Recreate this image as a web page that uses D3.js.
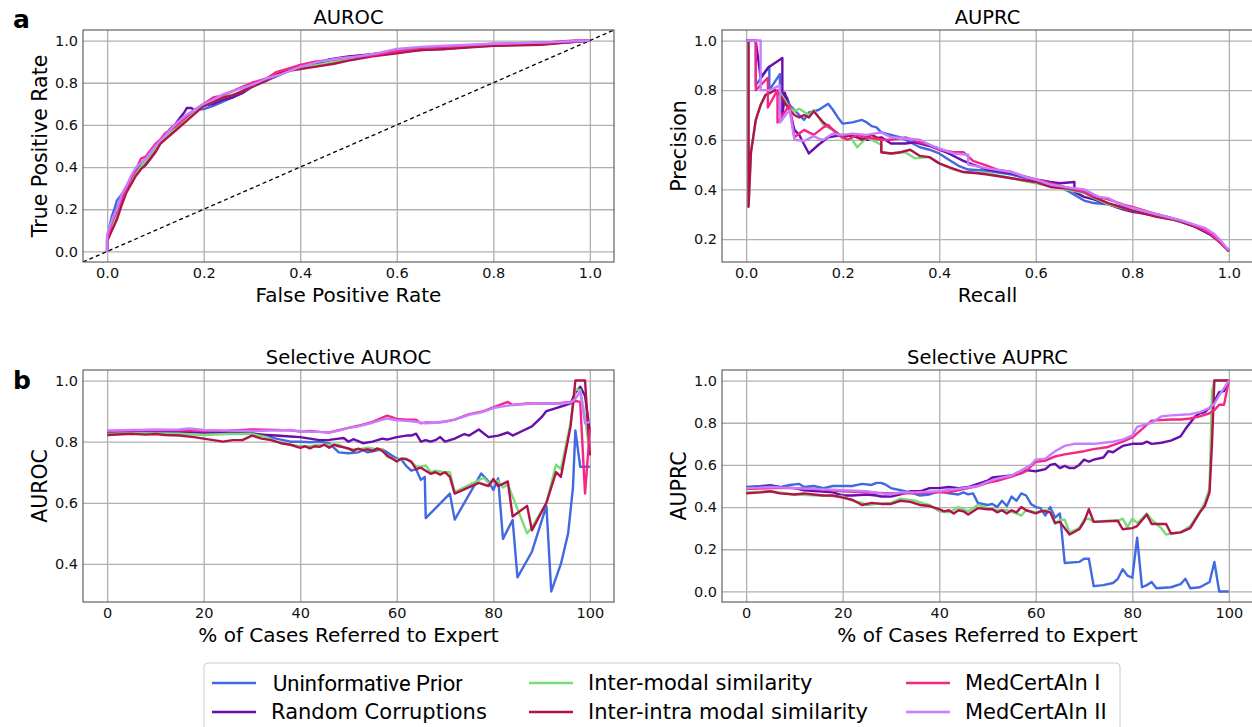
<!DOCTYPE html>
<html>
<head>
<meta charset="utf-8">
<script src="https://cdn.jsdelivr.net/npm/d3@7"></script>
<style>
  body { margin: 0; background: #fff; }
  svg { display: block; font-family: "DejaVu Sans", sans-serif; }
</style>
</head>
<body>
<div id="chart"></div>
<script>
// ---- series info (legend order) ----
const seriesNames = ['Uninformative Prior', 'Random Corruptions', 'Inter-modal similarity',
    'Inter-intra modal similarity', 'MedCertAIn I', 'MedCertAIn II'];
const seriesColors = ['#4169e1', '#6a0dad', '#77dd77', '#b3134b', '#f72585', '#c77dff'];

// ---- ROC curves [fpr, tpr] ----
const rocPrior = [[0,0],[0,0.05],[0.005,0.12],[0.01,0.17],[0.015,0.2],[0.02,0.24],[0.03,0.27],[0.04,0.31],[0.05,0.35],[0.06,0.38],[0.07,0.41],[0.08,0.43],[0.09,0.46],[0.1,0.49],[0.11,0.52],[0.12,0.55],[0.14,0.59],[0.15,0.62],[0.16,0.64],[0.18,0.67],[0.2,0.675],[0.22,0.69],[0.24,0.71],[0.26,0.73],[0.28,0.76],[0.3,0.79],[0.32,0.81],[0.35,0.84],[0.38,0.86],[0.4,0.875],[0.43,0.89],[0.47,0.91],[0.5,0.92],[0.55,0.935],[0.6,0.95],[0.65,0.955],[0.7,0.96],[0.75,0.97],[0.8,0.98],[0.85,0.985],[0.9,0.99],[0.95,0.995],[1,1]];
const rocRandom = [[0,0],[0,0.07],[0.01,0.13],[0.02,0.2],[0.03,0.26],[0.04,0.3],[0.05,0.34],[0.06,0.37],[0.07,0.4],[0.08,0.42],[0.09,0.45],[0.1,0.49],[0.11,0.52],[0.12,0.55],[0.13,0.58],[0.14,0.6],[0.15,0.63],[0.16,0.66],[0.165,0.68],[0.175,0.68],[0.18,0.67],[0.2,0.69],[0.22,0.7],[0.24,0.72],[0.26,0.73],[0.28,0.75],[0.3,0.78],[0.32,0.8],[0.35,0.83],[0.38,0.86],[0.4,0.875],[0.43,0.89],[0.46,0.91],[0.5,0.925],[0.55,0.935],[0.6,0.95],[0.65,0.96],[0.7,0.965],[0.75,0.97],[0.8,0.98],[0.9,0.985],[0.95,0.99],[1,1]];
const rocInter = [[0,0],[0,0.06],[0.01,0.12],[0.02,0.18],[0.03,0.24],[0.04,0.29],[0.05,0.33],[0.06,0.37],[0.07,0.4],[0.08,0.43],[0.09,0.46],[0.1,0.49],[0.12,0.54],[0.14,0.58],[0.16,0.62],[0.18,0.66],[0.2,0.69],[0.22,0.71],[0.24,0.73],[0.27,0.75],[0.3,0.78],[0.33,0.81],[0.36,0.85],[0.4,0.87],[0.45,0.89],[0.5,0.91],[0.55,0.93],[0.6,0.945],[0.65,0.955],[0.7,0.965],[0.8,0.975],[0.9,0.985],[1,1]];
const rocInterIntra = [[0,0],[0,0.05],[0.01,0.1],[0.02,0.15],[0.03,0.22],[0.04,0.28],[0.05,0.32],[0.06,0.36],[0.07,0.39],[0.08,0.41],[0.09,0.44],[0.1,0.47],[0.11,0.51],[0.12,0.53],[0.14,0.57],[0.16,0.61],[0.18,0.65],[0.2,0.69],[0.22,0.71],[0.24,0.73],[0.26,0.74],[0.28,0.76],[0.3,0.78],[0.33,0.81],[0.36,0.85],[0.4,0.865],[0.43,0.875],[0.47,0.89],[0.5,0.905],[0.55,0.925],[0.6,0.94],[0.65,0.955],[0.7,0.96],[0.8,0.975],[0.9,0.98],[0.95,0.99],[1,1]];
const rocMed1 = [[0,0],[0,0.06],[0.01,0.14],[0.02,0.19],[0.03,0.25],[0.04,0.3],[0.05,0.35],[0.06,0.39],[0.07,0.44],[0.08,0.45],[0.09,0.48],[0.1,0.51],[0.11,0.53],[0.12,0.56],[0.14,0.59],[0.16,0.63],[0.18,0.67],[0.2,0.7],[0.22,0.73],[0.24,0.74],[0.26,0.76],[0.28,0.78],[0.3,0.8],[0.33,0.82],[0.35,0.85],[0.38,0.87],[0.4,0.885],[0.43,0.9],[0.47,0.91],[0.5,0.92],[0.55,0.93],[0.6,0.95],[0.65,0.965],[0.7,0.97],[0.8,0.985],[0.9,0.99],[0.97,1],[1,1]];
const rocMed2 = [[0,0],[0,0.08],[0.01,0.15],[0.02,0.2],[0.03,0.27],[0.04,0.31],[0.05,0.36],[0.06,0.4],[0.07,0.42],[0.08,0.44],[0.09,0.47],[0.1,0.5],[0.12,0.55],[0.14,0.6],[0.16,0.64],[0.18,0.67],[0.2,0.7],[0.22,0.72],[0.24,0.745],[0.26,0.76],[0.28,0.775],[0.3,0.79],[0.33,0.82],[0.36,0.84],[0.4,0.875],[0.44,0.9],[0.48,0.915],[0.52,0.925],[0.56,0.94],[0.6,0.96],[0.65,0.97],[0.7,0.975],[0.8,0.985],[0.9,0.99],[1,1]];

// ---- PR curves [recall, precision] ----
const prPrior = [[0,1],[0.02,1],[0.02,0.82],[0.048,0.895],[0.048,0.8],[0.07,0.865],[0.07,0.72],[0.075,0.71],[0.08,0.76],[0.085,0.77],[0.09,0.74],[0.1,0.72],[0.11,0.7],[0.12,0.68],[0.13,0.71],[0.15,0.72],[0.17,0.745],[0.18,0.72],[0.19,0.69],[0.2,0.665],[0.22,0.67],[0.24,0.68],[0.25,0.67],[0.26,0.655],[0.27,0.65],[0.28,0.63],[0.3,0.62],[0.32,0.61],[0.34,0.59],[0.36,0.57],[0.38,0.56],[0.4,0.545],[0.42,0.52],[0.44,0.495],[0.46,0.48],[0.5,0.475],[0.55,0.46],[0.6,0.435],[0.63,0.425],[0.65,0.41],[0.67,0.39],[0.7,0.355],[0.72,0.345],[0.75,0.34],[0.78,0.33],[0.8,0.32],[0.83,0.305],[0.85,0.3],[0.88,0.285],[0.9,0.27],[0.93,0.25],[0.96,0.22],[0.98,0.19],[1,0.155]];
const prRandom = [[0,1],[0.02,1],[0.03,0.85],[0.045,0.89],[0.075,0.93],[0.075,0.7],[0.08,0.79],[0.085,0.76],[0.09,0.72],[0.095,0.68],[0.1,0.64],[0.11,0.62],[0.115,0.6],[0.13,0.545],[0.15,0.58],[0.17,0.61],[0.2,0.62],[0.22,0.615],[0.25,0.6],[0.28,0.61],[0.3,0.585],[0.33,0.585],[0.35,0.59],[0.38,0.575],[0.4,0.56],[0.42,0.545],[0.45,0.515],[0.47,0.5],[0.5,0.48],[0.55,0.465],[0.6,0.44],[0.63,0.43],[0.65,0.425],[0.68,0.43],[0.68,0.39],[0.7,0.37],[0.72,0.36],[0.75,0.34],[0.78,0.32],[0.8,0.31],[0.85,0.295],[0.88,0.28],[0.9,0.27],[0.93,0.25],[0.96,0.22],[0.98,0.19],[1,0.155]];
const prInter = [[0.005,1],[0.005,0.33],[0.01,0.55],[0.02,0.68],[0.03,0.74],[0.04,0.78],[0.06,0.8],[0.07,0.79],[0.08,0.76],[0.09,0.73],[0.1,0.715],[0.11,0.725],[0.13,0.7],[0.14,0.72],[0.16,0.66],[0.18,0.64],[0.2,0.605],[0.22,0.6],[0.23,0.57],[0.25,0.61],[0.28,0.58],[0.28,0.55],[0.3,0.545],[0.33,0.55],[0.35,0.525],[0.38,0.53],[0.4,0.505],[0.43,0.48],[0.45,0.47],[0.5,0.465],[0.55,0.445],[0.6,0.425],[0.65,0.405],[0.7,0.385],[0.75,0.34],[0.8,0.315],[0.85,0.295],[0.9,0.27],[0.95,0.24],[0.98,0.2],[1,0.15]];
const prInterIntra = [[0.005,1],[0.005,0.33],[0.01,0.55],[0.02,0.68],[0.03,0.74],[0.04,0.78],[0.05,0.79],[0.06,0.8],[0.07,0.78],[0.08,0.75],[0.09,0.72],[0.1,0.7],[0.11,0.69],[0.12,0.7],[0.13,0.69],[0.14,0.715],[0.16,0.67],[0.18,0.64],[0.2,0.61],[0.22,0.62],[0.24,0.6],[0.26,0.62],[0.28,0.6],[0.28,0.55],[0.3,0.545],[0.32,0.55],[0.34,0.56],[0.36,0.535],[0.38,0.53],[0.4,0.505],[0.42,0.49],[0.45,0.47],[0.48,0.465],[0.5,0.46],[0.55,0.445],[0.6,0.43],[0.63,0.41],[0.66,0.405],[0.7,0.39],[0.72,0.37],[0.75,0.345],[0.8,0.315],[0.85,0.29],[0.88,0.28],[0.9,0.27],[0.93,0.25],[0.96,0.225],[0.98,0.19],[1,0.15]];
const prMed1 = [[0.005,1],[0.02,1],[0.02,0.8],[0.045,0.85],[0.045,0.73],[0.065,0.8],[0.065,0.67],[0.09,0.74],[0.1,0.61],[0.12,0.64],[0.14,0.62],[0.16,0.65],[0.17,0.66],[0.19,0.62],[0.21,0.6],[0.23,0.62],[0.25,0.61],[0.28,0.6],[0.3,0.6],[0.33,0.61],[0.36,0.59],[0.38,0.58],[0.4,0.56],[0.43,0.55],[0.45,0.55],[0.47,0.515],[0.5,0.495],[0.52,0.48],[0.55,0.47],[0.58,0.45],[0.6,0.44],[0.63,0.425],[0.66,0.41],[0.7,0.39],[0.72,0.375],[0.75,0.36],[0.78,0.34],[0.8,0.33],[0.85,0.3],[0.9,0.275],[0.93,0.255],[0.96,0.225],[0.98,0.19],[1,0.155]];
const prMed2 = [[0,1],[0.03,1],[0.03,0.8],[0.05,0.8],[0.07,0.82],[0.07,0.67],[0.09,0.72],[0.1,0.6],[0.12,0.595],[0.14,0.615],[0.15,0.605],[0.16,0.6],[0.18,0.625],[0.2,0.62],[0.22,0.625],[0.25,0.62],[0.28,0.63],[0.3,0.61],[0.33,0.605],[0.36,0.6],[0.38,0.58],[0.4,0.565],[0.43,0.545],[0.46,0.54],[0.46,0.5],[0.5,0.485],[0.55,0.47],[0.58,0.45],[0.6,0.44],[0.63,0.42],[0.66,0.41],[0.7,0.4],[0.73,0.37],[0.75,0.365],[0.77,0.345],[0.8,0.325],[0.85,0.3],[0.9,0.275],[0.95,0.245],[0.97,0.22],[0.98,0.2],[1,0.155]];

// ---- selective AUROC [% referred, auroc] ----
const selRocPrior = [[0,0.83],[5,0.832],[10,0.833],[15,0.832],[20,0.83],[25,0.835],[30,0.828],[33,0.82],[35,0.81],[38,0.8],[40,0.8],[42,0.798],[44,0.8],[46,0.795],[47,0.78],[48,0.765],[50,0.762],[52,0.765],[53,0.772],[54,0.765],[56,0.772],[57,0.775],[58,0.765],[59,0.755],[60,0.745],[61,0.74],[62,0.72],[63,0.705],[64,0.71],[65,0.675],[65.8,0.685],[66,0.55],[71,0.63],[72,0.545],[77.5,0.696],[79,0.67],[80,0.642],[81,0.68],[82,0.482],[84,0.544],[85,0.356],[88,0.44],[91,0.59],[92,0.31],[94,0.4],[95.5,0.5],[96.5,0.65],[97,0.837],[98,0.718],[100,0.718]];
const selRocRandom = [[0,0.83],[3,0.832],[5,0.835],[8,0.834],[10,0.835],[15,0.833],[20,0.83],[25,0.83],[28,0.827],[30,0.825],[33,0.822],[35,0.82],[38,0.817],[40,0.815],[42,0.81],[44,0.805],[46,0.806],[48,0.81],[49,0.812],[50,0.8],[51,0.808],[53,0.795],[55,0.8],[57,0.81],[58,0.807],[60,0.815],[62,0.82],[63,0.82],[64,0.826],[65,0.8],[66,0.805],[67,0.8],[68,0.805],[69,0.815],[70,0.8],[72,0.81],[74,0.825],[75,0.82],[77,0.84],[79,0.815],[81,0.82],[83,0.83],[84,0.82],[86,0.835],[88,0.85],[90,0.88],[91,0.9],[93,0.91],[95,0.92],[96,0.925],[97,0.96],[98,0.98],[99,0.95],[100,0.83]];
const selRocInter = [[0,0.825],[5,0.828],[10,0.827],[15,0.826],[20,0.822],[25,0.825],[30,0.825],[33,0.815],[35,0.8],[38,0.79],[40,0.785],[42,0.785],[44,0.79],[46,0.79],[48,0.79],[50,0.775],[52,0.775],[54,0.78],[56,0.775],[57,0.775],[58,0.75],[60,0.74],[62,0.745],[64,0.72],[65,0.718],[66,0.722],[67,0.7],[68,0.705],[70,0.7],[71,0.7],[72,0.635],[78,0.682],[79,0.665],[81,0.672],[82,0.65],[83,0.66],[85,0.58],[87,0.5],[88,0.52],[91,0.6],[93,0.725],[94,0.71],[96,0.86],[97,0.97],[98,0.97],[99,0.88],[100,0.76]];
const selRocInterIntra = [[0,0.822],[5,0.826],[8,0.823],[10,0.825],[12,0.822],[15,0.82],[18,0.815],[20,0.81],[22,0.805],[24,0.8],[26,0.805],[28,0.805],[30,0.82],[32,0.81],[34,0.805],[36,0.795],[38,0.79],[40,0.78],[41,0.785],[42,0.778],[43,0.785],[44,0.783],[45,0.79],[46,0.78],[47,0.79],[48,0.785],[50,0.778],[51,0.77],[52,0.777],[53,0.772],[54,0.775],[55,0.77],[56,0.778],[57,0.77],[58,0.755],[60,0.735],[61,0.745],[62,0.742],[63,0.735],[64,0.71],[65,0.715],[66,0.705],[67,0.695],[68,0.7],[69,0.692],[70,0.7],[71,0.685],[72,0.63],[77,0.665],[79,0.655],[80,0.678],[81,0.655],[82,0.662],[83,0.67],[84,0.555],[87,0.59],[88,0.51],[91,0.6],[93,0.7],[94,0.685],[96,0.85],[97,1],[99,1],[100,0.755]];
const selRocMed1 = [[0,0.835],[5,0.837],[10,0.838],[15,0.837],[20,0.835],[25,0.836],[30,0.84],[35,0.838],[38,0.837],[40,0.833],[42,0.835],[44,0.832],[46,0.83],[48,0.838],[50,0.845],[52,0.852],[55,0.865],[58,0.885],[59,0.88],[60,0.874],[62,0.872],[64,0.872],[65,0.86],[66,0.863],[68,0.862],[70,0.866],[72,0.872],[75,0.89],[78,0.9],[80,0.912],[83,0.93],[84,0.92],[87,0.925],[90,0.925],[93,0.925],[96,0.93],[97,0.933],[98,0.93],[99,0.63],[100,0.84]];
const selRocMed2 = [[0,0.836],[5,0.838],[10,0.839],[15,0.84],[17,0.843],[20,0.838],[25,0.836],[30,0.835],[35,0.837],[38,0.838],[40,0.834],[42,0.833],[44,0.832],[46,0.83],[48,0.836],[50,0.845],[52,0.85],[55,0.862],[57,0.872],[58,0.876],[60,0.87],[62,0.868],[64,0.865],[66,0.86],[68,0.862],[70,0.865],[72,0.872],[75,0.888],[78,0.898],[80,0.91],[83,0.918],[85,0.922],[90,0.925],[94,0.925],[96,0.928],[97,0.94],[98,0.965],[99,0.86],[100,0.865]];

// ---- selective AUPRC [% referred, auprc] ----
const selPrcPrior = [[0,0.495],[3,0.5],[5,0.505],[7,0.495],[9,0.505],[11,0.51],[12,0.495],[14,0.5],[16,0.49],[18,0.5],[20,0.5],[22,0.5],[24,0.51],[26,0.505],[27,0.515],[28,0.515],[29,0.505],[30,0.49],[32,0.48],[34,0.47],[36,0.455],[38,0.46],[40,0.475],[41,0.47],[42,0.465],[44,0.46],[45,0.47],[46,0.46],[47,0.465],[48,0.42],[50,0.41],[51,0.415],[52,0.4],[53,0.43],[54,0.405],[55,0.45],[56,0.43],[57,0.465],[58,0.455],[59,0.415],[60,0.4],[61,0.395],[62,0.36],[63,0.4],[64,0.35],[65,0.37],[66,0.135],[69,0.14],[70,0.155],[71,0.155],[72,0.025],[74,0.03],[76,0.04],[77,0.06],[78,0.105],[79,0.075],[80,0.065],[81,0.255],[82,0.02],[83,0.03],[84,0.045],[85,0.015],[88,0.02],[90,0.035],[91,0.06],[92,0.015],[94,0.02],[96,0.045],[97,0.14],[98,0],[100,0]];
const selPrcRandom = [[0,0.49],[3,0.495],[5,0.5],[7,0.495],[10,0.49],[12,0.48],[15,0.475],[18,0.47],[20,0.455],[22,0.455],[25,0.46],[27,0.455],[28,0.45],[30,0.45],[32,0.46],[34,0.475],[36,0.475],[38,0.49],[40,0.49],[42,0.495],[44,0.49],[46,0.495],[48,0.51],[50,0.525],[51,0.54],[53,0.545],[55,0.55],[57,0.56],[58,0.575],[60,0.57],[62,0.58],[63,0.6],[64,0.605],[65,0.585],[66,0.595],[67,0.585],[68,0.585],[69,0.6],[70,0.625],[71,0.615],[72,0.625],[74,0.635],[75,0.665],[76,0.66],[77,0.675],[78,0.69],[80,0.7],[82,0.7],[83,0.71],[84,0.7],[86,0.705],[88,0.715],[90,0.735],[91,0.77],[92,0.8],[93,0.83],[94,0.845],[95,0.85],[96,0.87],[97,0.9],[98,0.945],[99,0.95],[100,1]];
const selPrcInter = [[0,0.47],[5,0.475],[10,0.46],[15,0.455],[20,0.45],[22,0.43],[24,0.42],[25,0.41],[27,0.415],[30,0.42],[32,0.44],[35,0.43],[37,0.415],[38,0.41],[40,0.38],[42,0.375],[44,0.4],[46,0.38],[48,0.41],[50,0.395],[52,0.385],[54,0.385],[56,0.37],[57,0.36],[58,0.385],[60,0.375],[62,0.385],[63,0.38],[64,0.32],[65,0.34],[66,0.34],[67,0.28],[69,0.3],[70,0.34],[71,0.345],[72,0.33],[75,0.335],[77,0.335],[78,0.345],[79,0.305],[80,0.345],[81,0.325],[82,0.345],[83,0.37],[84,0.34],[86,0.3],[87,0.27],[88,0.275],[90,0.28],[92,0.31],[94,0.38],[95,0.42],[96,0.49],[96.5,0.95],[97,1],[100,1]];
const selPrcInterIntra = [[0,0.465],[3,0.47],[5,0.475],[7,0.465],[10,0.46],[12,0.465],[14,0.46],[16,0.455],[18,0.455],[20,0.445],[22,0.435],[24,0.41],[26,0.42],[28,0.415],[30,0.415],[32,0.43],[34,0.425],[36,0.41],[38,0.405],[40,0.39],[41,0.38],[42,0.385],[43,0.37],[44,0.385],[45,0.38],[46,0.365],[48,0.395],[50,0.39],[51,0.39],[52,0.375],[53,0.385],[54,0.37],[55,0.385],[56,0.375],[57,0.4],[58,0.385],[60,0.37],[61,0.38],[62,0.38],[63,0.375],[64,0.325],[65,0.33],[66,0.3],[67,0.27],[69,0.295],[70,0.33],[71,0.39],[72,0.33],[77,0.335],[78,0.295],[80,0.3],[81,0.31],[83,0.365],[84,0.32],[87,0.32],[88,0.275],[90,0.28],[92,0.3],[94,0.375],[95,0.405],[96,0.47],[96.5,0.7],[97,1],[100,1]];
const selPrcMed1 = [[0,0.485],[5,0.49],[10,0.49],[15,0.485],[20,0.475],[25,0.47],[30,0.465],[35,0.465],[40,0.47],[42,0.47],[45,0.485],[48,0.5],[50,0.515],[52,0.525],[55,0.545],[58,0.57],[60,0.615],[62,0.62],[64,0.64],[65,0.645],[66,0.65],[70,0.665],[72,0.675],[75,0.685],[78,0.71],[80,0.73],[82,0.77],[84,0.81],[88,0.815],[90,0.815],[92,0.82],[94,0.83],[96,0.845],[97,0.86],[98,0.885],[99,0.885],[100,1]];
const selPrcMed2 = [[0,0.49],[5,0.495],[10,0.49],[15,0.485],[20,0.48],[25,0.475],[28,0.465],[30,0.46],[32,0.47],[35,0.47],[40,0.475],[45,0.49],[48,0.5],[50,0.52],[52,0.535],[55,0.55],[57,0.575],[59,0.6],[60,0.625],[62,0.63],[64,0.665],[66,0.69],[68,0.7],[72,0.7],[76,0.71],[78,0.72],[80,0.74],[81,0.78],[84,0.8],[86,0.83],[88,0.835],[92,0.84],[94,0.85],[96,0.87],[97,0.89],[98,0.93],[100,1]];

// ---- tick values ----
const unitTicks = [0, 0.2, 0.4, 0.6, 0.8, 1.0];
const precisionTicks = [0.2, 0.4, 0.6, 0.8, 1.0];
const selAurocTicks = [0.4, 0.6, 0.8, 1.0];
const percentTicks = [0, 20, 40, 60, 80, 100];

const panels = [
    { left: 83, top: 30, title: 'AUROC', xLabel: 'False Positive Rate', yLabel: 'True Positive Rate',
      xTicks: unitTicks, yTicks: unitTicks, xFmt: '.1f', yFmt: '.1f', diagonal: true,
      series: [rocPrior, rocRandom, rocInter, rocInterIntra, rocMed1, rocMed2] },
    { left: 722, top: 30, title: 'AUPRC', xLabel: 'Recall', yLabel: 'Precision',
      xTicks: unitTicks, yTicks: precisionTicks, xFmt: '.1f', yFmt: '.1f',
      series: [prPrior, prRandom, prInter, prInterIntra, prMed1, prMed2] },
    { left: 83, top: 370, title: 'Selective AUROC', xLabel: '% of Cases Referred to Expert', yLabel: 'AUROC',
      xTicks: percentTicks, yTicks: selAurocTicks, xFmt: 'd', yFmt: '.1f',
      series: [selRocPrior, selRocRandom, selRocInter, selRocInterIntra, selRocMed1, selRocMed2] },
    { left: 722, top: 370, title: 'Selective AUPRC', xLabel: '% of Cases Referred to Expert', yLabel: 'AUPRC',
      xTicks: percentTicks, yTicks: unitTicks, xFmt: 'd', yFmt: '.1f',
      series: [selPrcPrior, selPrcRandom, selPrcInter, selPrcInterIntra, selPrcMed1, selPrcMed2] }
];

const panelW = 531, panelH = 232;

const svg = d3.select('#chart').append('svg')
    .attr('width', 1252).attr('height', 727);

// matplotlib-like 5% margin around data
function padExtent(vals) {
    const [lo, hi] = d3.extent(vals);
    const m = (hi - lo) * 0.05;
    return [lo - m, hi + m];
}

panels.forEach(function (p, i) {
    const pts = p.series.flat();
    const x = d3.scaleLinear().domain(padExtent(pts.map(d => d[0])))
        .range([p.left, p.left + panelW]);
    const y = d3.scaleLinear().domain(padExtent(pts.map(d => d[1])))
        .range([p.top + panelH, p.top]);

    const g = svg.append('g');

    // grid
    g.append('g').attr('transform', `translate(0,${p.top + panelH})`)
        .call(d3.axisBottom(x).tickValues(p.xTicks).tickSize(-panelH).tickFormat(''))
        .call(a => a.select('.domain').remove())
        .selectAll('line').attr('stroke', '#b0b0b0').attr('stroke-width', 1.3);
    g.append('g').attr('transform', `translate(${p.left},0)`)
        .call(d3.axisLeft(y).tickValues(p.yTicks).tickSize(-panelW).tickFormat(''))
        .call(a => a.select('.domain').remove())
        .selectAll('line').attr('stroke', '#b0b0b0').attr('stroke-width', 1.3);

    // tick labels
    const xa = g.append('g').attr('transform', `translate(0,${p.top + panelH})`)
        .call(d3.axisBottom(x).tickValues(p.xTicks).tickSize(0).tickPadding(6).tickFormat(d3.format(p.xFmt)));
    const ya = g.append('g').attr('transform', `translate(${p.left},0)`)
        .call(d3.axisLeft(y).tickValues(p.yTicks).tickSize(0).tickPadding(5).tickFormat(d3.format(p.yFmt)));
    [xa, ya].forEach(a => {
        a.select('.domain').remove();
        a.selectAll('text').attr('font-size', 14.5).attr('font-family', '"DejaVu Sans", sans-serif').attr('fill', '#111');
    });

    // clip
    const clipId = 'clip' + i;
    svg.append('clipPath').attr('id', clipId).append('rect')
        .attr('x', p.left).attr('y', p.top).attr('width', panelW).attr('height', panelH);
    const plot = g.append('g').attr('clip-path', `url(#${clipId})`);

    if (p.diagonal) {
        const [d0, d1] = x.domain();
        plot.append('line')
            .attr('x1', x(d0)).attr('y1', y(d0)).attr('x2', x(d1)).attr('y2', y(d1))
            .attr('stroke', '#000').attr('stroke-width', 1.3).attr('stroke-dasharray', '4,3');
    }

    const line = d3.line().x(d => x(d[0])).y(d => y(d[1]));
    p.series.forEach(function (s, k) {
        plot.append('path').datum(s)
            .attr('d', line)
            .attr('fill', 'none')
            .attr('stroke', seriesColors[k])
            .attr('stroke-width', 2.4)
            .attr('stroke-linejoin', 'round');
    });

    // frame
    g.append('rect').attr('x', p.left).attr('y', p.top).attr('width', panelW).attr('height', panelH)
        .attr('fill', 'none').attr('stroke', '#444').attr('stroke-width', 1);

    // titles & labels
    g.append('text').attr('x', p.left + panelW / 2).attr('y', p.top - 6)
        .attr('text-anchor', 'middle').attr('font-size', 19.5).text(p.title);
    g.append('text').attr('x', p.left + panelW / 2).attr('y', p.top + panelH + 40)
        .attr('text-anchor', 'middle').attr('font-size', 20).text(p.xLabel);
    g.append('text')
        .attr('transform', `translate(${p.left - 36},${p.top + panelH / 2}) rotate(-90)`)
        .attr('text-anchor', 'middle').attr('font-size', 20.5).text(p.yLabel);
});

// panel letters
svg.append('text').attr('x', 13).attr('y', 28).attr('font-size', 25).attr('font-weight', 'bold').text('a');
svg.append('text').attr('x', 13).attr('y', 389).attr('font-size', 25).attr('font-weight', 'bold').text('b');

// legend
const legend = svg.append('g');
legend.append('rect').attr('x', 204).attr('y', 663).attr('width', 916).attr('height', 80)
    .attr('rx', 4).attr('fill', '#fff').attr('stroke', '#cccccc').attr('stroke-width', 1);

const colX = [212, 529, 906];
const rowY = [683, 712];
seriesNames.forEach(function (name, k) {
    const cx = colX[Math.floor(k / 2)];
    const cy = rowY[k % 2];
    legend.append('line').attr('x1', cx).attr('x2', cx + 44).attr('y1', cy).attr('y2', cy)
        .attr('stroke', seriesColors[k]).attr('stroke-width', 2.5);
    legend.append('text').attr('x', cx + (k === 0 ? 61 : 59)).attr('y', cy).attr('dy', '0.35em')
        .attr('font-size', k === 0 ? 22 : 21)
        .attr('font-family', k === 0 ? 'Roboto, sans-serif' : '"DejaVu Sans", sans-serif')
        .text(name);
});
</script>
</body>
</html>
